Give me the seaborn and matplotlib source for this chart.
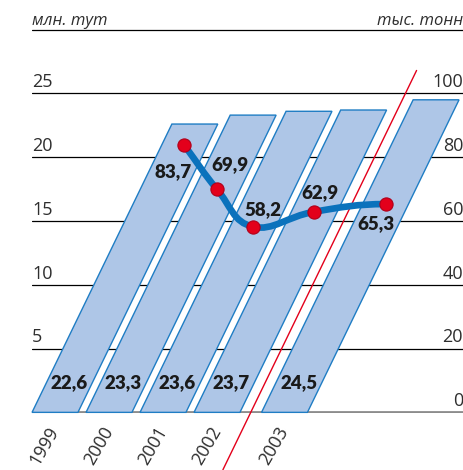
import matplotlib
matplotlib.use("Agg")
import numpy as np
import pandas as pd
import seaborn as sns
import matplotlib.pyplot as plt
from matplotlib.transforms import Affine2D, blended_transform_factory
from matplotlib.path import Path
from matplotlib.patches import PathPatch

# ---------------- data ----------------
years = ["1999", "2000", "2001", "2002", "2003"]
energy = [22.6, 23.3, 23.6, 23.7, 24.5]      # млн. тут  (bars, left axis)
mass = [83.7, 69.9, 58.2, 62.9, 65.3]        # тыс. тонн (line, right axis)
left_ticks = [5, 10, 15, 20, 25]
right_ticks = [0, 20, 40, 60, 80, 100]
left_unit = "млн. тут"
right_unit = "тыс. тонн"

# ---------------- layout ----------------
slots = [0, 1, 2, 3, 4.25]                   # bar slots (gap before 2003)
line_label_offsets = [(-8, -19), (9, 18), (7, 12), (4, 14), (-7, -14)]
W, H = 464, 470
AX_L, AX_R, AX_T, AX_B = 32, 463, 29, 413
PX_PER_SLOT = 54.0
PIXEL_SLOPE = 0.485                          # dx/dy of the slanted bars
Y_MAX_L = 30
BAR_FILL = "#AEC6E7"
BAR_EDGE = "#1F7DC4"
LINE_BLUE = "#0B72BC"
RED = "#E3001B"
TXT = "#2E2E2E"

def fmt(v):
    return f"{v:.1f}".replace(".", ",")

sns.set_theme(style="white")
plt.rcParams["font.family"] = ["Open Sans", "DejaVu Sans"]

fig = plt.figure(figsize=(W / 100, H / 100), dpi=100)
ax_w, ax_h = AX_R - AX_L, AX_B - AX_T
ax = fig.add_axes([AX_L / W, (H - AX_B) / H, ax_w / W, ax_h / H])

x0 = -23 / PX_PER_SLOT
ax.set_xlim(x0, x0 + ax_w / PX_PER_SLOT)
ypad = 0.05
ax.set_ylim(-ypad, Y_MAX_L + ypad)

ppx = PX_PER_SLOT
ppy_left = ax_h / (Y_MAX_L + 2 * ypad)
k_left = PIXEL_SLOPE * ppy_left / ppx
skew_left = Affine2D().skew(np.arctan(k_left), 0)

df = pd.DataFrame({"slot": slots, "energy": energy})
sns.barplot(data=df, x="slot", y="energy", native_scale=True, width=0.85,
            color=BAR_FILL, saturation=1, edgecolor=BAR_EDGE, linewidth=1.0,
            errorbar=None, ax=ax, zorder=2)
for p in ax.patches:
    p.set_transform(skew_left + ax.transData)
    p.set_clip_on(False)
ax.set_xlim(x0, x0 + ax_w / PX_PER_SLOT)
ax.set_ylim(-ypad, Y_MAX_L + ypad)

# grid lines
ax.set_yticks(left_ticks + [Y_MAX_L])
ax.grid(axis="y", color="black", linewidth=0.9)
ax.grid(axis="x", visible=False)
ax.set_axisbelow(True)
ax.axhline(0, color="#8C8C8C", linewidth=2.0, zorder=1.5)
for s in ax.spines.values():
    s.set_visible(False)
ax.tick_params(axis="y", left=False, labelleft=False, length=0)
ax.set_xlabel("")
ax.set_ylabel("")

# left tick labels above grid lines
bl = blended_transform_factory(ax.transAxes, ax.transData)
for t in left_ticks:
    ax.annotate(str(t), (0, t), xycoords=bl, xytext=(0, 4.5),
                textcoords="offset points", ha="left", va="baseline",
                fontsize=13, fontweight="normal", color=TXT)

# year labels
ax.set_xticks(slots)
ax.set_xticklabels(years, rotation=60, ha="right", va="center",
                   rotation_mode="anchor", fontsize=13, fontweight="normal",
                   color=TXT)
ax.tick_params(axis="x", length=0, pad=11)

# bar value labels
for s, v in zip(slots, energy):
    ax.text(s, 2.35, fmt(v), transform=skew_left + ax.transData,
            ha="center", va="center", fontsize=13.5, fontweight="heavy",
            family=["Lato", "DejaVu Sans"], color="#1A1A1A", zorder=5)

# red separator between 2002 and 2003
xm = ((slots[3] + 0.425) + (slots[4] - 0.425)) / 2
ax.plot([xm, xm], [-4.5, 26.8], transform=skew_left + ax.transData,
        color=RED, linewidth=1.0, clip_on=False, zorder=4)

# ---------------- right axis / line ----------------
ax2 = ax.twinx()
ax2.set_ylim(-ypad * 4, (Y_MAX_L + ypad) * 4)
ax2.set_xlim(ax.get_xlim())
for s in ax2.spines.values():
    s.set_visible(False)
ax2.tick_params(axis="y", right=False, labelright=False, length=0)
ax2.grid(False)
ppy_right = ax_h / ((Y_MAX_L + 2 * ypad) * 4)
k_right = PIXEL_SLOPE * ppy_right / ppx
skew_right = Affine2D().skew(np.arctan(k_right), 0)
tr2 = skew_right + ax2.transData

br = blended_transform_factory(ax2.transAxes, ax2.transData)
for t in right_ticks:
    ax2.annotate(str(t), (1, t), xycoords=br, xytext=(0, 4.5),
                 textcoords="offset points", ha="right", va="baseline",
                 fontsize=13, fontweight="normal", color=TXT)

# smooth line (Catmull-Rom -> cubic Bezier) through the data points
P = np.column_stack([slots, mass]).astype(float)
n = len(P)
T = np.zeros_like(P)
T[0] = P[1] - P[0]
T[-1] = (P[-1] - P[-2]) * np.array([1.0, 0.0])
for i in range(1, n - 1):
    T[i] = (P[i + 1] - P[i - 1]) / 2
T *= 1.25
verts = [P[0]]
codes = [Path.MOVETO]
for i in range(n - 1):
    verts += [P[i] + T[i] / 3, P[i + 1] - T[i + 1] / 3, P[i + 1]]
    codes += [Path.CURVE4] * 3
ax2.add_patch(PathPatch(Path(verts, codes), facecolor="none",
                        edgecolor=LINE_BLUE, linewidth=4.8,
                        capstyle="round", transform=tr2, zorder=3))

sns.lineplot(x=slots, y=mass, ax=ax2, marker="o", linestyle="none",
             markersize=9.5, markerfacecolor=RED, markeredgecolor="#B0001A",
             markeredgewidth=0.8, color=RED, zorder=4)
for ln in ax2.lines:
    ln.set_transform(tr2)
ax2.set_xlim(ax.get_xlim())
ax2.set_ylim(-ypad * 4, (Y_MAX_L + ypad) * 4)
ax2.set_xlabel("")
ax2.set_ylabel("")

for s, v, off in zip(slots, mass, line_label_offsets):
    ax2.annotate(fmt(v), (s, v), xycoords=tr2, xytext=off,
                 textcoords="offset points", ha="center", va="center",
                 fontsize=13.5, fontweight="heavy",
                 family=["Lato", "DejaVu Sans"], color="#1A1A1A", zorder=6)

# units
fig.text(AX_L / W, 1 - 25 / H, left_unit, ha="left", va="baseline",
         fontsize=12, style="italic", fontweight="normal", color=TXT)
fig.text(463 / W, 1 - 25 / H, right_unit, ha="right", va="baseline",
         fontsize=12, style="italic", fontweight="normal", color=TXT)

fig.savefig("out.png", dpi=100)
